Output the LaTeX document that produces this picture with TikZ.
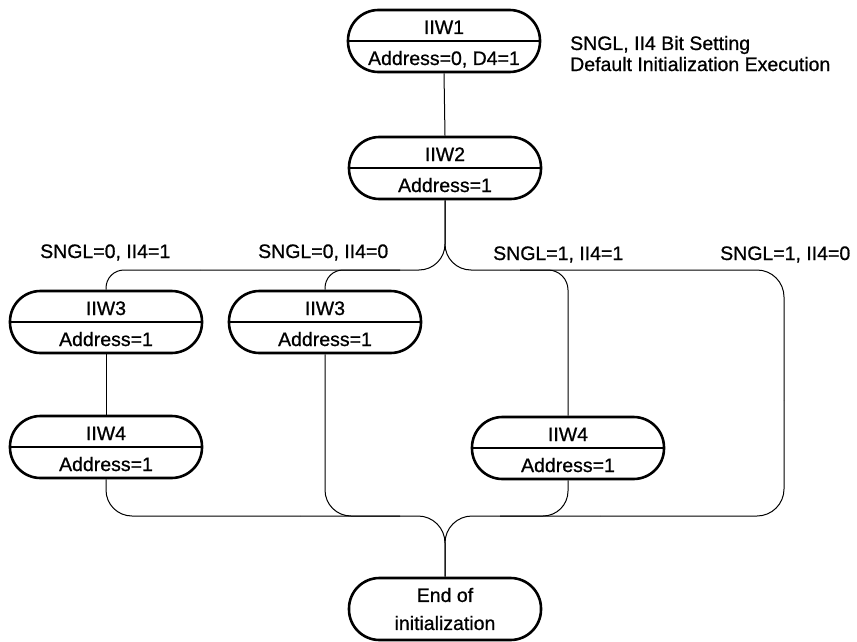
\documentclass[tikz,border=0pt]{standalone}
\usepackage{fontspec}
\setmainfont{Liberation Sans}[FakeBold=0.8]
\begin{document}
\begin{tikzpicture}[x=1pt,y=-1pt,
  stadium/.style={draw, rectangle, rounded corners=30.5pt, minimum width=192pt,
    minimum height=62pt, line width=2.6pt, inner sep=0pt,
    font=\fontsize{19.5}{22}\selectfont, align=center},
  divider/.style={line width=1.2pt},
  lbl/.style={inner sep=0pt, font=\fontsize{19.5}{22}\selectfont},
  conn/.style={line width=1pt}]
\useasboundingbox (0,0) rectangle (857,642);

% boxes
\node[stadium] (w1) at (444,41) {};
\node[stadium] (w2) at (445,168) {};
\node[stadium] (w3a) at (106,322) {};
\node[stadium] (w3b) at (325,322) {};
\node[stadium] (w4a) at (106,447) {};
\node[stadium] (w4b) at (568,448) {};
\node[stadium] (end) at (445,609) {End of\\[6pt]initialization};

\foreach \n in {w1,w2,w3a,w3b,w4a,w4b}{
  \draw[divider] (\n.west) -- (\n.east);
}

% box texts
\node[lbl, anchor=base] (w1u) at ([yshift=7pt]w1.center) {IIW1};
\node[lbl, anchor=base] (w1l) at ([yshift=-24pt]w1.center) {Address=0, D4=1};
\node[lbl, anchor=base] (w2u) at ([yshift=7pt]w2.center) {IIW2};
\node[lbl, anchor=base] (w2l) at ([yshift=-24pt]w2.center) {Address=1};
\node[lbl, anchor=base] (w3au) at ([yshift=7pt]w3a.center) {IIW3};
\node[lbl, anchor=base] (w3al) at ([yshift=-24pt]w3a.center) {Address=1};
\node[lbl, anchor=base] (w3bu) at ([yshift=7pt]w3b.center) {IIW3};
\node[lbl, anchor=base] (w3bl) at ([yshift=-24pt]w3b.center) {Address=1};
\node[lbl, anchor=base] (w4au) at ([yshift=7pt]w4a.center) {IIW4};
\node[lbl, anchor=base] (w4al) at ([yshift=-24pt]w4a.center) {Address=1};
\node[lbl, anchor=base] (w4bu) at ([yshift=7pt]w4b.center) {IIW4};
\node[lbl, anchor=base] (w4bl) at ([yshift=-24pt]w4b.center) {Address=1};

% annotations
\node[lbl, anchor=base west] (note1) at (570,50) {SNGL, II4 Bit Setting};
\node[lbl, anchor=base west] (note2) at (570,71) {Default Initialization Execution};
\node[lbl, anchor=base west] (c1) at (40,258) {SNGL=0, II4=1};
\node[lbl, anchor=base west] (c2) at (258,258) {SNGL=0, II4=0};
\node[lbl, anchor=base west] (c3) at (493,260) {SNGL=1, II4=1};
\node[lbl, anchor=base west] (c4) at (720,260) {SNGL=1, II4=0};

% connector coordinates
\coordinate (tl) at (200,270);
\coordinate (tlb) at (400,270);
\coordinate (tr) at (520,270);
\coordinate (rd) at (784,400);
\coordinate (bl) at (300,516);
\coordinate (blb) at (400,516);
\coordinate (br) at (600,516);
\coordinate (brb) at (500,516);

% connectors
\draw[conn] (w1.south) -- (w2.north);
\draw[conn, rounded corners=26pt] (w2.south) |- (tl);
\draw[conn, rounded corners=26pt] (w2.south) |- (tr);
\draw[conn, rounded corners=18pt] (w3a.north) |- (tl);
\draw[conn, rounded corners=18pt] (w3b.north) |- (tlb);
\draw[conn, rounded corners=20pt] (tr) -| (w4b.north);
\draw[conn, rounded corners=27pt] (tr) -| (rd);
\draw[conn] (w3a.south) -- (w4a.north);
\draw[conn, rounded corners=26pt] (w4a.south) |- (bl);
\draw[conn, rounded corners=26pt] (w3b.south) |- (blb);
\draw[conn, rounded corners=25pt] (w4b.south) |- (brb);
\draw[conn, rounded corners=27pt] (rd) |- (br);
\draw[conn, rounded corners=27pt] (bl) -| (end.north);
\draw[conn, rounded corners=27pt] (br) -| (end.north);
\end{tikzpicture}
\end{document}
